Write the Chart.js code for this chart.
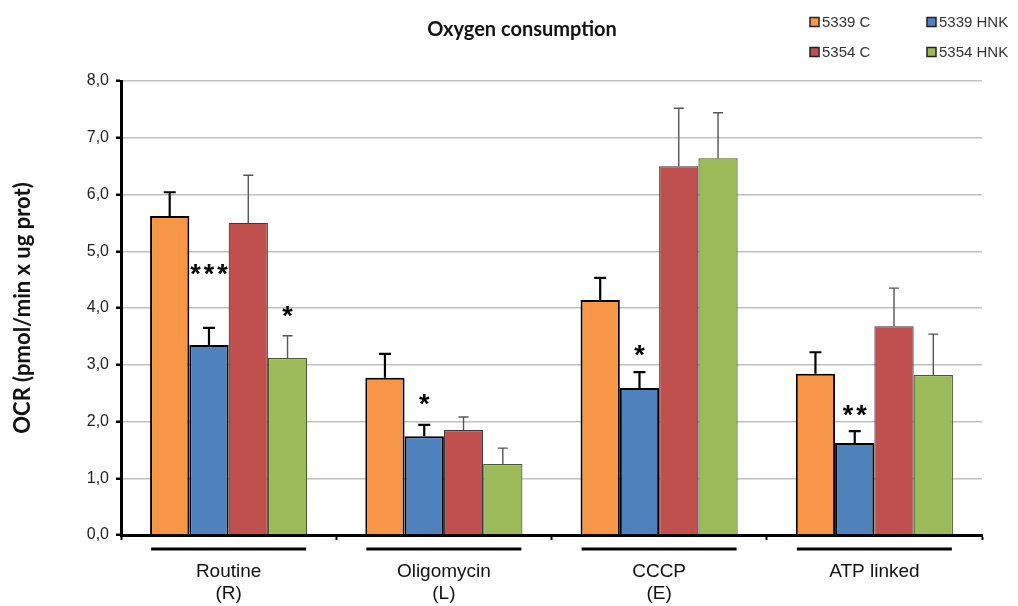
<!DOCTYPE html>
<html>
<head>
<meta charset="utf-8">
<script src="https://cdn.jsdelivr.net/npm/chart.js@4.4.1/dist/chart.umd.min.js"></script>
<style>
  html, body { margin: 0; padding: 0; background: #ffffff; }
  #wrap { width: 1018px; height: 606px; position: relative; }
</style>
</head>
<body>
<div id="wrap"><canvas id="c" width="1018" height="606"></canvas></div>
<script>
// Categories (protocol states)
const categories = [["Routine", "(R)"], ["Oligomycin", "(L)"], ["CCCP", "(E)"], ["ATP linked"]];
const seriesNames = ["5339 C", "5339 HNK", "5354 C", "5354 HNK"];

// Mean OCR per series
const ocr5339C   = [5.62, 2.77, 4.14, 2.84];
const ocr5339HNK = [3.35, 1.74, 2.59, 1.62];
const ocr5354C   = [5.50, 1.85, 6.50, 3.68];
const ocr5354HNK = [3.12, 1.25, 6.64, 2.82];

// Upper error (SD) per series
const err5339C   = [0.42, 0.42, 0.39, 0.38];
const err5339HNK = [0.30, 0.20, 0.28, 0.21];
const err5354C   = [0.84, 0.23, 1.02, 0.67];
const err5354HNK = [0.39, 0.28, 0.80, 0.72];

// Y tick values
const yTicks = [0, 1, 2, 3, 4, 5, 6, 7, 8];

// Significance marks: series index, category index, text, level (OCR units)
const sigSeries   = [1, 3, 1, 1, 1];
const sigCategory = [0, 0, 1, 2, 3];
const sigText     = ["***", "*", "*", "*", "**"];
const sigLevel    = [4.70, 3.96, 2.42, 3.28, 2.22];

const values = [ocr5339C, ocr5339HNK, ocr5354C, ocr5354HNK];
const errors = [err5339C, err5339HNK, err5354C, err5354HNK];
const fills   = ["#F79646", "#4F81BD", "#C0504D", "#9BBB59"];
const borders = ["#000000", "#000000", "#3a3a3a", "#4b5a2e"];
const borderW = [2, 2, 1.2, 1.2];
const errColor = ["#000000", "#000000", "#555555", "#555555"];
const errWidth = [2.2, 2.2, 1.4, 1.4];

const datasets = seriesNames.map((name, i) => ({
  label: name,
  data: values[i],
  backgroundColor: fills[i],
  borderColor: borders[i],
  borderWidth: borderW[i],
  categoryPercentage: 0.73,
  barPercentage: 1.0
}));

const SANS = "'Liberation Sans', Arial, sans-serif";
const BOLD = "Lato, 'Open Sans', sans-serif";

const decorations = {
  id: 'decorations',
  afterDatasetsDraw(chart) {
    const ctx = chart.ctx;
    const y = chart.scales.y;
    ctx.save();
    // error bars (upper only) with caps
    chart.data.datasets.forEach((ds, di) => {
      const meta = chart.getDatasetMeta(di);
      meta.data.forEach((bar, i) => {
        const top = y.getPixelForValue(values[di][i]);
        const tip = y.getPixelForValue(values[di][i] + errors[di][i]);
        const cap = di < 2 ? 6 : 5;
        ctx.strokeStyle = errColor[di];
        ctx.lineWidth = errWidth[di];
        ctx.beginPath();
        ctx.moveTo(bar.x, top);
        ctx.lineTo(bar.x, tip);
        ctx.moveTo(bar.x - cap, tip);
        ctx.lineTo(bar.x + cap, tip);
        ctx.stroke();
      });
    });
    // significance asterisks, spaced evenly
    ctx.fillStyle = "#000";
    ctx.font = "bold 27px " + SANS;
    ctx.textAlign = "center";
    ctx.textBaseline = "alphabetic";
    const step = 13.5;
    sigText.forEach((t, k) => {
      const bar = chart.getDatasetMeta(sigSeries[k]).data[sigCategory[k]];
      const cy = y.getPixelForValue(sigLevel[k]);
      const n = t.length;
      for (let j = 0; j < n; j++) {
        ctx.fillText("*", bar.x + (j - (n - 1) / 2) * step, cy + 15);
      }
    });
    ctx.restore();
  },
  afterDraw(chart) {
    const ctx = chart.ctx;
    const x = chart.scales.x;
    const area = chart.chartArea;
    ctx.save();
    // category underlines
    const catW = (area.right - area.left) / categories.length;
    ctx.strokeStyle = "#000";
    ctx.lineWidth = 3;
    categories.forEach((c, i) => {
      const cx = x.getPixelForValue(i);
      const half = catW * 0.36;
      ctx.beginPath();
      ctx.moveTo(cx - half, area.bottom + 14);
      ctx.lineTo(cx + half, area.bottom + 14);
      ctx.stroke();
    });
    // title
    ctx.fillStyle = "#111";
    ctx.font = "bold 20px " + BOLD;
    ctx.textAlign = "center";
    ctx.textBaseline = "middle";
    ctx.fillText("Oxygen consumption", 522, 30);
    // legend, two columns
    ctx.font = "15px " + SANS;
    ctx.textAlign = "left";
    const colX = [810, 927];
    const rowY = [22, 52];
    seriesNames.forEach((name, i) => {
      const bx = colX[i % 2];
      const by = rowY[Math.floor(i / 2)];
      ctx.fillStyle = fills[i];
      ctx.fillRect(bx, by - 4.5, 9, 9);
      ctx.strokeStyle = "#222";
      ctx.lineWidth = 1.5;
      ctx.strokeRect(bx, by - 4.5, 9, 9);
      ctx.fillStyle = "#333";
      ctx.fillText(name, bx + 12, by + 1);
    });
    ctx.restore();
  }
};

new Chart(document.getElementById('c'), {
  type: 'bar',
  data: { labels: categories, datasets },
  options: {
    responsive: false,
    animation: false,
    layout: { padding: { left: 0, right: 36, top: 81, bottom: 0 } },
    plugins: { legend: { display: false }, title: { display: false }, tooltip: { enabled: false } },
    scales: {
      x: {
        offset: true,
        border: { color: '#000', width: 3 },
        grid: { display: true, offset: true, drawOnChartArea: false, tickColor: '#000', tickLength: 5, tickWidth: 2 },
        ticks: { color: '#111', font: { family: SANS, size: 19, lineHeight: 1.15 }, padding: 21, maxRotation: 0 },
        afterFit(scale) { scale.height = 71; }
      },
      y: {
        min: 0, max: 8,
        afterBuildTicks(scale) { scale.ticks = yTicks.map(v => ({ value: v })); },
        border: { color: '#000', width: 3 },
        grid: { color: '#c0c0c0', lineWidth: 1.5, tickColor: '#000', tickLength: 5, tickWidth: 2.5 },
        ticks: {
          color: '#222', font: { family: SANS, size: 16 }, padding: 7,
          callback: v => v.toFixed(1).replace('.', ',')
        },
        title: { display: true, text: 'OCR (pmol/min x ug prot)', color: '#111', font: { family: BOLD, size: 22, weight: 'bold' }, padding: { top: 10, bottom: 10 } },
        afterFit(scale) { scale.width = 121; }
      }
    }
  },
  plugins: [decorations]
});
</script>
</body>
</html>
